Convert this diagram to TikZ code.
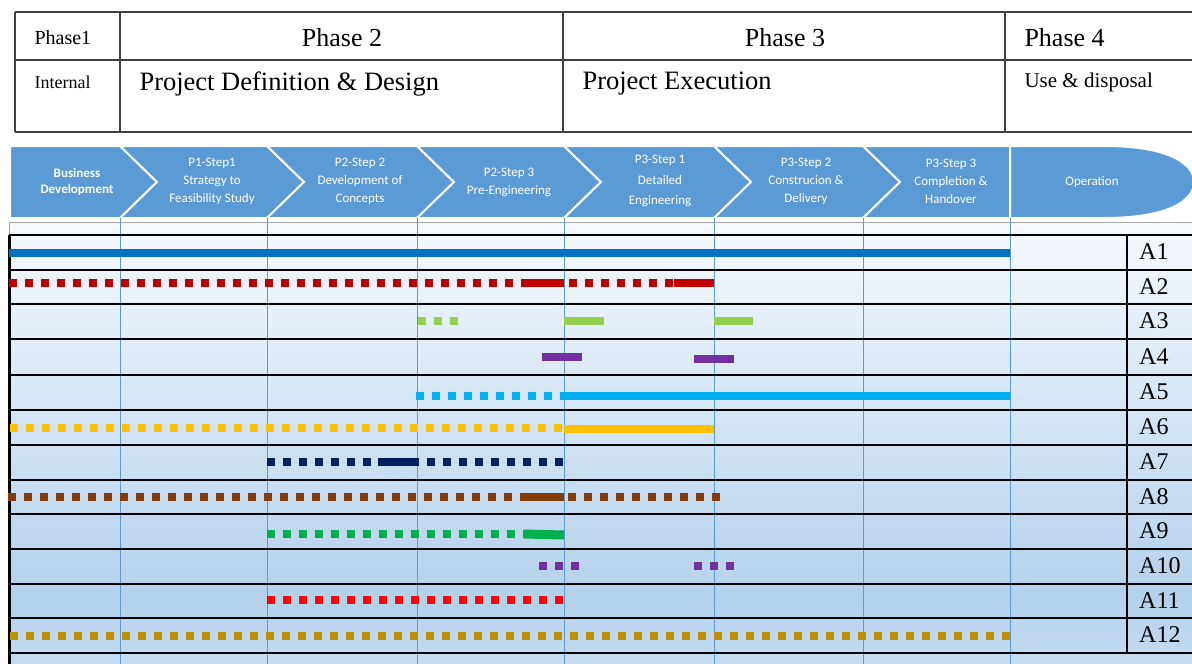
\documentclass[tikz,border=0pt]{standalone}
\usepackage{fontspec}
\setmainfont{Liberation Serif}
\newfontfamily\calib{Carlito}
\begin{document}
\begin{tikzpicture}[x=1pt,y=-1pt,
  tbl/.style={draw=black!75,line width=1.3pt},
  chev/.style={fill=chevblue,draw=white,line width=2pt},
  chevtxt/.style={text=white,font=\calib\fontsize{13}{18}\selectfont,align=center,inner sep=0pt},
  rowline/.style={draw=black,line width=2pt},
  gridline/.style={draw=chevblue,line width=0.9pt},
  lab/.style={font=\fontsize{24}{26}\selectfont,anchor=west,inner sep=0pt},
  solidbar/.style={line width=8pt,line cap=butt},
  dotbar/.style={line width=8pt,line cap=butt,dash pattern=on 8pt off 8pt}]
\definecolor{chevblue}{HTML}{5B9BD5}
\definecolor{bgtop}{HTML}{F6F9FD}
\definecolor{bgmid}{HTML}{B4D1EB}
\definecolor{bgbot}{HTML}{C6DCF0}
\definecolor{cA1}{HTML}{0070C0}
\definecolor{cA2}{HTML}{C00000}
\definecolor{cA3}{HTML}{92D050}
\definecolor{cA4}{HTML}{7030A0}
\definecolor{cA5}{HTML}{00B0F0}
\definecolor{cA6}{HTML}{FFC000}
\definecolor{cA7}{HTML}{002060}
\definecolor{cA8}{HTML}{843C0C}
\definecolor{cA9}{HTML}{00B050}
\definecolor{cA11}{HTML}{FF0000}
\definecolor{cA12}{HTML}{BF9000}
\useasboundingbox (0,0) rectangle (1192,664);

% ---------- phase table ----------
\draw[tbl] (15,12) -- (1192,12);
\draw[tbl] (15,60) -- (1192,60);
\draw[tbl] (15,132) -- (1192,132);
\foreach \x in {15,120,563,1005} \draw[tbl] (\x,12) -- (\x,132);
\node[anchor=west,font=\fontsize{20}{22}\selectfont] (ph1) at (31,38) {Phase1};
\node[font=\fontsize{26}{28}\selectfont] (ph2) at (342,38) {Phase 2};
\node[font=\fontsize{26}{28}\selectfont] (ph3) at (785,38) {Phase 3};
\node[anchor=west,font=\fontsize{26}{28}\selectfont] (ph4) at (1021,38) {Phase 4};
\node[anchor=west,font=\fontsize{18}{20}\selectfont] (int) at (31,82) {Internal};
\node[anchor=west,font=\fontsize{26.5}{28}\selectfont] (pdd) at (136,84) {Project Definition \& Design};
\node[anchor=west,font=\fontsize{26.5}{28}\selectfont] (pex) at (579,84) {Project Execution};
\node[anchor=west,font=\fontsize{21}{23}\selectfont] (use) at (1021,82) {Use \& disposal};

% ---------- process chevrons ----------
\fill[chev] (10,146) -- (120,146) -- (157,182) -- (120,218) -- (10,218) -- cycle;
\foreach \a/\b in {120/267,267/417,417/564,564/714,714/863}
  \fill[chev] (\a,146) -- (\b,146) -- (\b+37,182) -- (\b,218) -- (\a,218) -- (\a+37,182) -- cycle;
\fill[chev] (863,146) -- (1010,146) -- (1010,218) -- (863,218) -- (900,182) -- cycle;
\fill[chev] (1010,146) -- (1105,146) .. controls (1165,146) and (1194,162) .. (1194,182)
  .. controls (1194,202) and (1165,218) .. (1105,218) -- (1010,218) -- cycle;

\node[chevtxt,font=\calib\bfseries\fontsize{13}{16}\selectfont] (bd) at (77,182) {Business\\Development};
\node[chevtxt] (s1) at (212,181) {P1-Step1\\Strategy to\\Feasibility Study};
\node[chevtxt] (s2) at (360,181) {P2-Step 2\\Development of\\Concepts};
\node[chevtxt] (s3) at (509,182) {P2-Step 3\\Pre-Engineering};
\node[chevtxt,font=\calib\fontsize{13}{20.5}\selectfont] (s4) at (660,181) {P3-Step 1\\Detailed\\Engineering};
\node[chevtxt] (s5) at (806,181) {P3-Step 2\\Construcion \&\\Delivery};
\node[chevtxt] (s6) at (951,181) {P3-Step 3\\Completion \&\\Handover};
\node[chevtxt] (op) at (1092,182) {Operation};

% ---------- activity grid ----------
\shade[top color=bgtop,bottom color=bgmid] (9,222) rectangle (1192,600);
\shade[top color=bgmid,bottom color=bgbot] (9,600) rectangle (1192,664);
\draw[black!35,line width=0.8pt] (9,664) -- (9,222) -- (1192,222);
\foreach \x in {120,267,417,564,714,863,1010} \draw[gridline] (\x,218) -- (\x,664);
\foreach \y in {235,270,304,339,375,410,445,480,514,549,584,618,653}
  \draw[rowline] (9,\y) -- (1192,\y);
\draw[black,line width=3pt] (9,235) -- (9,664);
\draw[black,line width=2pt] (1127,235) -- (1127,653);
\foreach \i/\y in {1/252,2/287,3/321,4/357,5/392,6/427,7/462,8/497,9/531,10/566,11/601,12/635}
  \node[lab] (A\i) at (1139,\y) {A\i};

% ---------- activity bars ----------
% A1
\draw[solidbar,cA1] (9,253) -- (1010,253);
% A2
\draw[dotbar,cA2] (9,283) -- (714,283);
\draw[solidbar,cA2] (522,283) -- (564,283);
\draw[solidbar,cA2] (674,283) -- (714,283);
% A3
\draw[dotbar,cA3] (418,321) -- (458,321);
\draw[solidbar,cA3] (564,321) -- (604,321);
\draw[solidbar,cA3] (714,321) -- (753,321);
% A4
\draw[solidbar,cA4] (542,357) -- (582,357);
\draw[solidbar,cA4] (694,359) -- (734,359);
% A5
\draw[dotbar,cA5] (416,396) -- (564,396);
\draw[solidbar,cA5] (564,396) -- (1010,396);
% A6
\draw[dotbar,cA6] (10,428) -- (564,428);
\draw[solidbar,cA6] (564,429) -- (714,429);
% A7
\draw[dotbar,cA7] (267,462) -- (564,462);
\draw[solidbar,cA7] (378,462) -- (416,462);
% A8
\draw[dotbar,cA8] (8,497) -- (720,497);
\draw[solidbar,cA8] (522,497) -- (564,497);
% A9
\draw[dotbar,cA9] (267,534) -- (524,534);
\draw[line width=9pt,cA9] (524,534) -- (564,535);
% A10
\draw[dotbar,cA4] (539,566) -- (580,566);
\draw[dotbar,cA4] (694,566) -- (735,566);
% A11
\draw[dotbar,cA11] (267,600) -- (564,600);
% A12
\draw[dotbar,cA12] (10,636) -- (1010,636);
\end{tikzpicture}
\end{document}
